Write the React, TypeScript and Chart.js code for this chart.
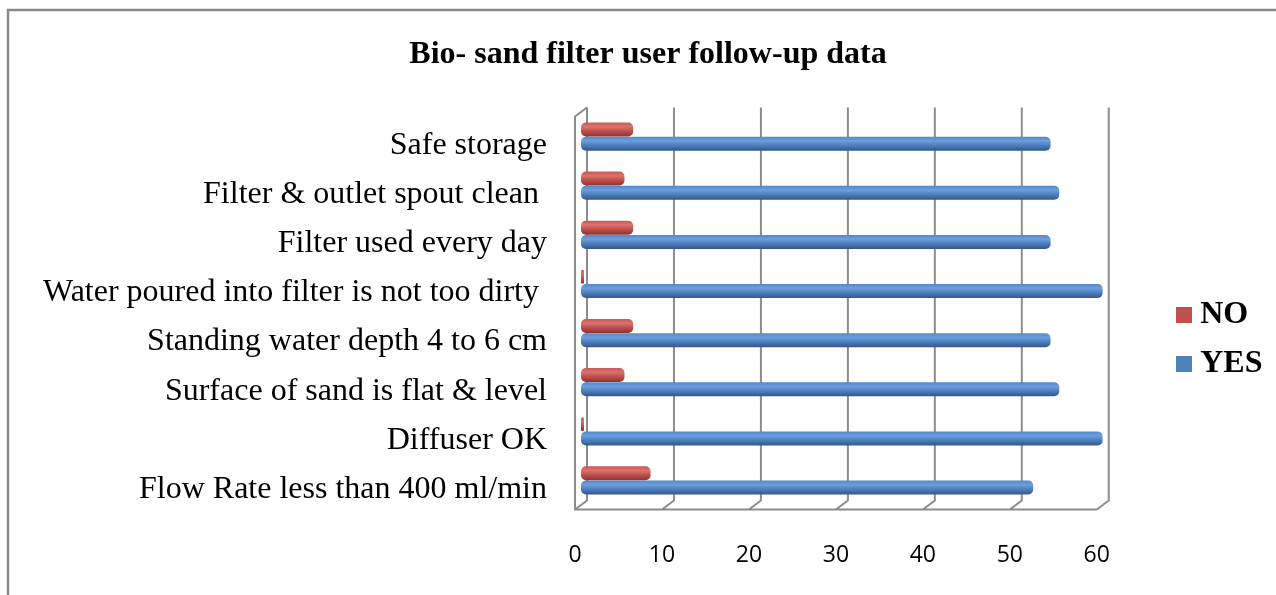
import { useEffect, useRef } from "react";
import { Chart, registerables } from "chart.js";

Chart.register(...registerables);

const categories = [
  "Safe storage",
  "Filter & outlet spout clean ",
  "Filter used every day",
  "Water poured into filter is not too dirty ",
  "Standing water depth 4 to 6 cm",
  "Surface of sand is flat & level",
  "Diffuser OK",
  "Flow Rate less than 400 ml/min",
];
const noValues = [6, 5, 6, 0, 6, 5, 0, 8];
const yesValues = [54, 55, 54, 60, 54, 55, 60, 52];
const xTicks = [0, 10, 20, 30, 40, 50, 60];
const chartTitle = "Bio- sand filter user follow-up data";

const RED = "#c0504d";
const BLUE = "#4f81bd";
const RED_STOPS: [number, string][] = [
  [0, "#c65a57"],
  [0.3, "#de716d"],
  [0.6, "#c0504d"],
  [1, "#8a3431"],
];
const BLUE_STOPS: [number, string][] = [
  [0, "#5588c8"],
  [0.3, "#6c9fe0"],
  [0.6, "#4f81bd"],
  [1, "#35578a"],
];

const DX = 6;
const DY = 4.5;

const framePlugin = {
  id: "frame",
  beforeDraw(chart: any) {
    const { ctx, width, height } = chart;
    ctx.save();
    ctx.fillStyle = "#ffffff";
    ctx.fillRect(0, 0, width, height);
    ctx.strokeStyle = "#8a8a8a";
    ctx.lineWidth = 2.5;
    ctx.strokeRect(8, 10, width + 20, height + 20);
    ctx.restore();
  },
};

const wallPlugin = {
  id: "walls",
  beforeDatasetsDraw(chart: any) {
    const { ctx, chartArea: a } = chart;
    const x = chart.scales.x;
    ctx.save();
    ctx.strokeStyle = "#8c8c8c";
    ctx.lineWidth = 2;
    ctx.beginPath();
    for (const v of xTicks) {
      const px = x.getPixelForValue(v);
      ctx.moveTo(px + DX, a.top - DY);
      ctx.lineTo(px + DX, a.bottom - DY);
      ctx.lineTo(px - DX, a.bottom + DY);
    }
    const x0 = x.getPixelForValue(xTicks[0]);
    const x1 = x.getPixelForValue(xTicks[xTicks.length - 1]);
    ctx.moveTo(x1 - DX, a.bottom + DY);
    ctx.lineTo(x0 - DX, a.bottom + DY);
    ctx.lineTo(x0 - DX, a.top + DY);
    ctx.lineTo(x0 + DX, a.top - DY);
    ctx.stroke();
    ctx.restore();

    chart.data.datasets.forEach((ds: any, i: number) => {
      const meta = chart.getDatasetMeta(i);
      const stops = i === 0 ? RED_STOPS : BLUE_STOPS;
      meta.data.forEach((el: any) => {
        const { y, height } = el.getProps(["y", "height"], true);
        const g = ctx.createLinearGradient(0, y - height / 2, 0, y + height / 2);
        stops.forEach(([o, c]) => g.addColorStop(o, c));
        el.options = { ...el.options, backgroundColor: g };
      });
    });
  },
};

function makeSwatch(color: string) {
  const c = document.createElement("canvas");
  c.width = 16;
  c.height = 16;
  const g = c.getContext("2d") as CanvasRenderingContext2D;
  g.fillStyle = color;
  g.fillRect(0, 0, 16, 16);
  return c;
}

export default function App() {
  const ref = useRef<HTMLCanvasElement>(null);

  useEffect(() => {
    const swatches = [makeSwatch(RED), makeSwatch(BLUE)];
    const chart = new Chart(ref.current as HTMLCanvasElement, {
      type: "bar",
      data: {
        labels: categories,
        datasets: [
          {
            label: "NO",
            data: noValues,
            backgroundColor: () => RED,
            borderWidth: 0,
            borderRadius: 5,
            borderSkipped: false,
            minBarLength: 3,
          },
          {
            label: "YES",
            data: yesValues,
            backgroundColor: () => BLUE,
            borderWidth: 0,
            borderRadius: 5,
            borderSkipped: false,
          },
        ],
      },
      plugins: [framePlugin, wallPlugin],
      options: {
        indexAxis: "y",
        responsive: false,
        animation: false,
        devicePixelRatio: 1,
        layout: { padding: { left: 23.5, right: 23.5, top: 0, bottom: 0 } },
        datasets: {
          bar: { categoryPercentage: 0.58, barPercentage: 0.98 },
        },
        scales: {
          x: {
            type: "linear",
            position: "bottom",
            min: 0,
            max: 60,
            afterBuildTicks: (s: any) => {
              s.ticks = xTicks.map((v) => ({ value: v }));
            },
            afterFit: (s: any) => {
              s.height = 90;
            },
            grid: { display: false, drawTicks: false },
            border: { display: false },
            ticks: {
              font: { family: "Open Sans", size: 23 },
              color: "#000",
              padding: 37,
              labelOffset: -DX,
              maxRotation: 0,
            },
          },
          x2: {
            type: "linear",
            position: "top",
            display: true,
            grid: { display: false, drawTicks: false },
            border: { display: false },
            ticks: { display: false },
            afterFit: (s: any) => {
              s.height = 35.6;
            },
          },
          y: {
            type: "category",
            position: "left",
            afterFit: (s: any) => {
              s.width = 557.5;
            },
            grid: { display: false, drawTicks: false },
            border: { display: false },
            ticks: {
              font: { family: "Liberation Serif", size: 32 },
              color: "#000",
              padding: 34,
              labelOffset: 9,
              autoSkip: false,
            },
          },
          y2: {
            type: "linear",
            position: "right",
            display: true,
            grid: { display: false, drawTicks: false },
            border: { display: false },
            ticks: { display: false },
            afterFit: (s: any) => {
              s.width = 63.5;
            },
          },
        },
        plugins: {
          title: {
            display: true,
            text: chartTitle,
            color: "#000",
            font: { family: "Liberation Serif", size: 32, weight: "bold" },
            padding: { top: 36, bottom: 2 },
          },
          legend: {
            display: true,
            position: "right",
            title: {
              display: true,
              text: " ",
              font: { family: "Liberation Serif", size: 32 },
              padding: { top: 45.6, bottom: 0 },
            },
            labels: {
              usePointStyle: true,
              pointStyleWidth: 1,
              boxHeight: 16,
              padding: 17,
              color: "#000",
              font: { family: "Liberation Serif", size: 32, weight: "bold" },
              generateLabels: (c: any) =>
                Chart.defaults.plugins.legend.labels
                  .generateLabels(c)
                  .map((l: any, i: number) => ({ ...l, pointStyle: swatches[i] })),
            },
          },
          tooltip: { enabled: false },
        },
      } as any,
    });
    return () => chart.destroy();
  }, []);

  return (
    <div
      style={{
        position: "absolute",
        left: 0,
        top: 0,
        width: 1276,
        height: 595,
        overflow: "hidden",
        background: "#fff",
      }}
    >
      <canvas
        ref={ref}
        width={1296}
        height={595}
        style={{ display: "block", width: 1296, height: 595 }}
      />
    </div>
  );
}
